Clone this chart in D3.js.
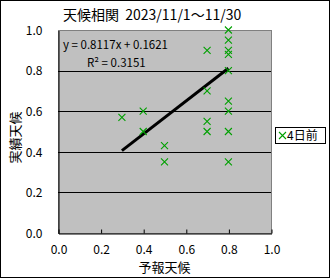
<!DOCTYPE html>
<html>
<head>
<meta charset="utf-8">
<script src="https://cdn.jsdelivr.net/npm/d3@7"></script>
<style>
body { margin: 0; background: #fff; }
text { font-family: "Noto Sans CJK JP", "DejaVu Sans", sans-serif; fill: #000; }
</style>
</head>
<body>
<div id="chart"></div>
<script>
// forecast vs actual weather scores, 4 days before
var forecast = [0.3, 0.4, 0.4, 0.5, 0.5, 0.7, 0.7, 0.7, 0.7, 0.8, 0.8, 0.8, 0.8, 0.8, 0.8, 0.8, 0.8, 0.8];
var actual   = [0.57, 0.6, 0.5, 0.43, 0.35, 0.9, 0.7, 0.55, 0.5, 1.0, 0.95, 0.9, 0.88, 0.8, 0.65, 0.6, 0.5, 0.35];
var ticks = [0, 0.2, 0.4, 0.6, 0.8, 1.0];
var trendSlope = 0.8117, trendIntercept = 0.1621, r2 = 0.3151;
var title = "天候相関\u00a0 2023/11/1～11/30";
var seriesName = "4日前";

var width = 330, height = 278;
var plotL = 58, plotR = 271, plotT = 30, plotB = 233;

var svg = d3.select('#chart').append('svg')
	.attr('width', width)
	.attr('height', height);

svg.append('rect')
	.attr('x', 0.5).attr('y', 0.5)
	.attr('width', width - 1).attr('height', height - 1)
	.attr('fill', '#fff').attr('stroke', '#000');

var x = d3.scaleLinear().domain([0, 1]).range([plotL, plotR]);
var y = d3.scaleLinear().domain([0, 1]).range([plotB, plotT]);

// plot area
svg.append('rect')
	.attr('x', plotL + 0.5).attr('y', plotT + 0.5)
	.attr('width', plotR - plotL).attr('height', plotB - plotT)
	.attr('fill', '#c0c0c0')
	.attr('stroke', '#808080');

// gridlines
svg.selectAll('.grid')
	.data(ticks.filter(function(t){ return t > 0 && t < 1; }))
	.enter().append('line')
	.attr('x1', plotL).attr('x2', plotR)
	.attr('y1', function(d){ return Math.round(y(d)) + 0.5; })
	.attr('y2', function(d){ return Math.round(y(d)) + 0.5; })
	.attr('stroke', '#000');

// axes
var xAxis = svg.append('g')
	.attr('transform', 'translate(0.5,' + (plotB + 0.5) + ')')
	.call(d3.axisBottom(x).tickValues(ticks).tickSizeInner(-4).tickSizeOuter(0).tickPadding(10).tickFormat(d3.format('.1f')));
var yAxis = svg.append('g')
	.attr('transform', 'translate(' + (plotL + 0.5) + ',0.5)')
	.call(d3.axisLeft(y).tickValues(ticks).tickSize(0).tickPadding(16).tickFormat(d3.format('.1f')));
[xAxis, yAxis].forEach(function(a){
	a.select('.domain').attr('stroke', '#000');
	a.selectAll('.tick line').attr('stroke', '#000');
	a.selectAll('text').attr('font-size', 12).attr('font-family', '"DejaVu Sans", sans-serif');
});
xAxis.selectAll('.tick text').attr('dy', '0.9em');

// trend line from min x to max x
var xmin = d3.min(forecast), xmax = d3.max(forecast);
svg.append('line')
	.attr('x1', x(xmin)).attr('y1', y(trendSlope * xmin + trendIntercept))
	.attr('x2', x(xmax)).attr('y2', y(trendSlope * xmax + trendIntercept))
	.attr('stroke', '#000')
	.attr('stroke-width', 3);

// markers
var s = 3.5;
svg.selectAll('.pt')
	.data(forecast.map(function(f, i){ return [f, actual[i]]; }))
	.enter().append('path')
	.attr('d', function(d){
		var cx = x(d[0]), cy = y(d[1]);
		return 'M' + (cx - s) + ',' + (cy - s) + 'L' + (cx + s) + ',' + (cy + s) +
			'M' + (cx - s) + ',' + (cy + s) + 'L' + (cx + s) + ',' + (cy - s);
	})
	.attr('stroke', '#00a000')
	.attr('stroke-width', 1.1)
	.attr('fill', 'none');

// equation
svg.append('text')
	.attr('x', 63).attr('y', 49)
	.attr('font-size', 11.5)
	.attr('font-family', '"DejaVu Sans Condensed", "DejaVu Sans", sans-serif')
	.text('y = ' + trendSlope + 'x + ' + trendIntercept);
svg.append('text')
	.attr('x', 87).attr('y', 67)
	.attr('font-size', 11.5)
	.attr('font-family', '"DejaVu Sans Condensed", "DejaVu Sans", sans-serif')
	.text('R² = ' + r2);

// title
svg.append('text')
	.attr('x', 63).attr('y', 20)
	.attr('font-size', 14)
	.text(title);

// axis titles
svg.append('text')
	.attr('x', (plotL + plotR) / 2).attr('y', 272)
	.attr('text-anchor', 'middle')
	.attr('font-size', 13)
	.text('予報天候');
svg.append('text')
	.attr('transform', 'translate(20,' + ((plotT + plotB) / 2 + 6) + ') rotate(-90)')
	.attr('text-anchor', 'middle')
	.attr('font-size', 13)
	.text('実績天候');

// legend
var lg = svg.append('g').attr('transform', 'translate(275,127)');
lg.append('rect')
	.attr('x', 0.5).attr('y', 0.5)
	.attr('width', 50).attr('height', 16)
	.attr('fill', '#fff').attr('stroke', '#000');
lg.append('path')
	.attr('d', 'M4,5L11,12M4,12L11,5')
	.attr('stroke', '#00a000').attr('stroke-width', 1.1);
lg.append('text')
	.attr('x', 12).attr('y', 13)
	.attr('font-size', 12)
	.text(seriesName);
</script>
</body>
</html>
